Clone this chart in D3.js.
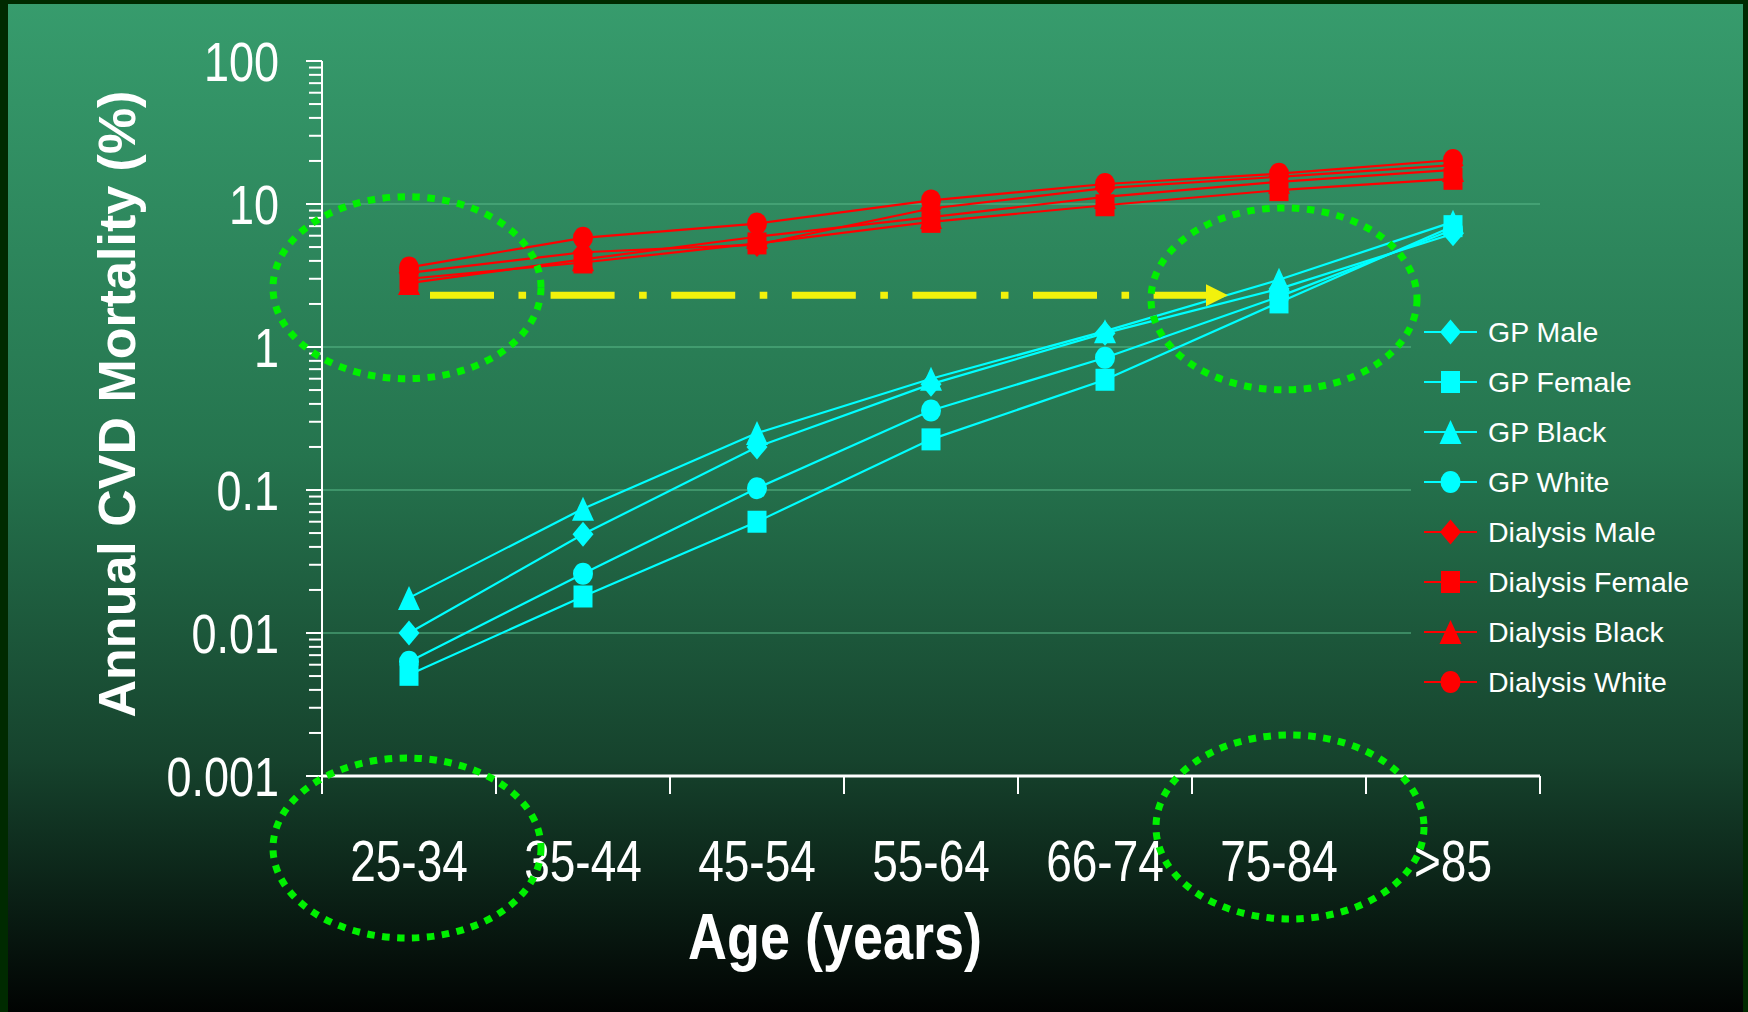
<!DOCTYPE html>
<html>
<head>
<meta charset="utf-8">
<script src="https://cdn.jsdelivr.net/npm/d3@7"></script>
<style>
  html, body { margin: 0; padding: 0; background: #002a00; }
  svg { display: block; font-family: "Liberation Sans", Arial, sans-serif; }
</style>
</head>
<body>
<svg id="chart" width="1748" height="1012"></svg>
<script>
// --- data ---
const ages = ["25-34", "35-44", "45-54", "55-64", "66-74", "75-84", ">85"];

const gpMale     = [0.010, 0.049, 0.20, 0.55, 1.25, 2.55, 6.2];
const gpFemale   = [0.0051, 0.018, 0.060, 0.226, 0.59, 2.05, 7.0];
const gpBlack    = [0.0176, 0.074, 0.25, 0.60, 1.29, 2.95, 7.5];
const gpWhite    = [0.0063, 0.026, 0.103, 0.36, 0.84, 2.25, 6.6];
const dialMale   = [3.3, 4.6, 5.2, 9.3, 12.9, 15.5, 18.7];
const dialFemale = [3.0, 3.9, 5.3, 7.5, 9.8, 12.5, 15.0];
const dialBlack  = [2.8, 4.1, 5.9, 8.1, 11.2, 14.3, 17.3];
const dialWhite  = [3.6, 5.8, 7.3, 10.6, 13.8, 16.3, 20.3];

const yMajor = [0.001, 0.01, 0.1, 1, 10, 100];
const yMajorLabels = ["0.001", "0.01", "0.1", "1", "10", "100"];
const gridValues = [10, 1, 0.1, 0.01];

// annotation: the yellow arrow level
const arrowLevel = 2.3;

const cyan = "#00ffff", red = "#ff0000";

const series = [
  {name: "GP Male",         values: gpMale,     color: cyan, shape: "diamond"},
  {name: "GP Female",       values: gpFemale,   color: cyan, shape: "square"},
  {name: "GP Black",        values: gpBlack,    color: cyan, shape: "triangle"},
  {name: "GP White",        values: gpWhite,    color: cyan, shape: "circle"},
  {name: "Dialysis Male",   values: dialMale,   color: red,  shape: "diamond"},
  {name: "Dialysis Female", values: dialFemale, color: red,  shape: "square"},
  {name: "Dialysis Black",  values: dialBlack,  color: red,  shape: "triangle"},
  {name: "Dialysis White",  values: dialWhite,  color: red,  shape: "circle"}
];

// --- layout ---
const W = 1748, H = 1012;
const plot = {left: 322, right: 1540, top: 61, bottom: 776};
const stretch = 1.23;   // slide text is a bit tall and narrow

const svg = d3.select("#chart");

const x = d3.scaleBand().domain(ages).range([plot.left, plot.right]);
const xEdge = d3.scaleLinear().domain([0, ages.length]).range([plot.left, plot.right]);
const y = d3.scaleLog().domain([0.001, 100]).range([plot.bottom, plot.top]);
const cx = function(a) { return x(a) + x.bandwidth() / 2; };

// background
let defs = svg.append("defs");
let grad = defs.append("linearGradient")
  .attr("id", "bg")
  .attr("gradientUnits", "userSpaceOnUse")
  .attr("x1", 0).attr("y1", 0).attr("x2", 0).attr("y2", H);
grad.append("stop").attr("offset", 0).attr("stop-color", "#379c6d");
grad.append("stop").attr("offset", 0.45).attr("stop-color", "#25744e");
grad.append("stop").attr("offset", 0.75).attr("stop-color", "#16432d");
grad.append("stop").attr("offset", 1).attr("stop-color", "#010302");

svg.append("rect").attr("width", W).attr("height", H).attr("fill", "#002a00");
svg.append("rect").attr("x", 8).attr("y", 4).attr("width", W - 13).attr("height", H - 4)
  .attr("fill", "url(#bg)");

// gridlines
svg.append("g").selectAll("line").data(gridValues).enter().append("line")
  .attr("x1", plot.left).attr("x2", plot.right)
  .attr("y1", function(d) { return y(d); }).attr("y2", function(d) { return y(d); })
  .attr("stroke", "#55b485").attr("stroke-opacity", 0.55).attr("stroke-width", 2);

// legend box hides the gridlines behind it
const legend = {x: 1411, top: 300, bottom: 712, lineX1: 1424, lineX2: 1477, textX: 1488, rowY: 332, step: 50};
svg.append("rect")
  .attr("x", legend.x).attr("y", legend.top)
  .attr("width", 1742 - legend.x).attr("height", legend.bottom - legend.top)
  .attr("fill", "url(#bg)");

// y axis
let minorTicks = [];
for (let e = -3; e < 2; e++) {
  for (let m = 2; m <= 9; m++) minorTicks.push(m * Math.pow(10, e));
}
let yAxis = svg.append("g").attr("class", "y-axis");
yAxis.append("line")
  .attr("x1", plot.left).attr("x2", plot.left)
  .attr("y1", y(100)).attr("y2", y(0.001))
  .attr("stroke", "#fff").attr("stroke-width", 2);
yAxis.selectAll("line.major").data(yMajor).enter().append("line")
  .attr("class", "major")
  .attr("x1", plot.left - 16).attr("x2", plot.left)
  .attr("y1", function(d) { return y(d); }).attr("y2", function(d) { return y(d); })
  .attr("stroke", "#fff").attr("stroke-width", 2);
yAxis.selectAll("line.minor").data(minorTicks).enter().append("line")
  .attr("class", "minor")
  .attr("x1", plot.left - 13).attr("x2", plot.left)
  .attr("y1", function(d) { return y(d); }).attr("y2", function(d) { return y(d); })
  .attr("stroke", "#fff").attr("stroke-width", 2);

function tallText(parent, px, py, str, size, anchor, weight, sy) {
  return parent.append("text")
    .attr("transform", "translate(" + px + "," + py + ") scale(1," + sy + ")")
    .attr("text-anchor", anchor)
    .attr("font-size", size)
    .attr("font-weight", weight)
    .attr("fill", "#fff")
    .text(str);
}

yMajor.forEach(function(v, i) {
  tallText(yAxis, 279, y(v), yMajorLabels[i], 45, "end", "normal", stretch).attr("dy", "0.36em");
});

// x axis
let xAxis = svg.append("g").attr("class", "x-axis");
xAxis.append("line")
  .attr("x1", plot.left).attr("x2", plot.right)
  .attr("y1", plot.bottom).attr("y2", plot.bottom)
  .attr("stroke", "#fff").attr("stroke-width", 3);
xAxis.selectAll("line.tick").data(d3.range(ages.length + 1)).enter().append("line")
  .attr("class", "tick")
  .attr("x1", function(d) { return xEdge(d); }).attr("x2", function(d) { return xEdge(d); })
  .attr("y1", plot.bottom).attr("y2", plot.bottom + 18)
  .attr("stroke", "#fff").attr("stroke-width", 2);
ages.forEach(function(a) {
  tallText(xAxis, cx(a), 881, a, 46, "middle", "normal", stretch);
});

// axis titles
tallText(svg, 835, 959, "Age (years)", 54, "middle", "bold", 1.2);
svg.append("text")
  .attr("transform", "translate(116," + 404 + ") rotate(-90)")
  .attr("text-anchor", "middle")
  .attr("dy", "0.36em")
  .attr("font-size", 52)
  .attr("font-weight", "bold")
  .attr("fill", "#fff")
  .text("Annual CVD Mortality (%)");

// markers
function markerPath(shape) {
  if (shape === "diamond") return "M0,-12.5L10.5,0L0,12.5L-10.5,0Z";
  if (shape === "square") return "M-9.5,-11h19v22h-19Z";
  if (shape === "triangle") return "M0,-12L11,12L-11,12Z";
  return "M-10,0a10,11 0 1,0 20,0a10,11 0 1,0 -20,0Z";
}

let line = d3.line()
  .x(function(d, i) { return cx(ages[i]); })
  .y(function(d) { return y(d); });

let seriesG = svg.append("g").selectAll("g").data(series).enter().append("g");
seriesG.append("path")
  .attr("d", function(s) { return line(s.values); })
  .attr("fill", "none")
  .attr("stroke", function(s) { return s.color; })
  .attr("stroke-width", 2.2);
seriesG.each(function(s) {
  d3.select(this).selectAll("path.mark").data(s.values).enter().append("path")
    .attr("class", "mark")
    .attr("transform", function(d, i) { return "translate(" + cx(ages[i]) + "," + y(d) + ")"; })
    .attr("d", markerPath(s.shape))
    .attr("fill", s.color);
});

// legend
let leg = svg.append("g").selectAll("g").data(series).enter().append("g")
  .attr("transform", function(d, i) { return "translate(0," + (legend.rowY + i * legend.step) + ")"; });
leg.append("line")
  .attr("x1", legend.lineX1).attr("x2", legend.lineX2)
  .attr("stroke", function(d) { return d.color; }).attr("stroke-width", 2.2);
leg.append("path")
  .attr("transform", "translate(" + (legend.lineX1 + legend.lineX2) / 2 + ",0)")
  .attr("d", function(d) { return markerPath(d.shape); })
  .attr("fill", function(d) { return d.color; });
leg.append("text")
  .attr("x", legend.textX).attr("dy", "0.36em")
  .attr("font-size", 28.5)
  .attr("fill", "#fff")
  .text(function(d) { return d.name; });

// annotations: yellow dash-dot arrow
let ay = y(arrowLevel);
let ax1 = cx(ages[0]) + 21, ax2 = cx(ages[5]) - 51;
svg.append("line")
  .attr("x1", ax1).attr("x2", ax2 - 18)
  .attr("y1", ay).attr("y2", ay)
  .attr("stroke", "#f2f20c").attr("stroke-width", 7)
  .attr("stroke-dasharray", "64 24.5 7.6 24.5");
svg.append("path")
  .attr("d", "M" + (ax2 - 22) + "," + (ay - 11) + "L" + ax2 + "," + ay + "L" + (ax2 - 22) + "," + (ay + 11) + "Z")
  .attr("fill", "#f2f20c");

// annotations: green dotted ellipses
const ellipses = [
  {age: ages[0], dx: -2, cy: y(2.6), rx: 134, ry: 91},
  {age: ages[5], dx: 5,  cy: y(2.17), rx: 133, ry: 91},
  {age: ages[0], dx: -2, cy: plot.bottom + 72, rx: 134, ry: 90},
  {age: ages[5], dx: 11, cy: plot.bottom + 51, rx: 134, ry: 92}
];
svg.append("g").selectAll("ellipse").data(ellipses).enter().append("ellipse")
  .attr("cx", function(d) { return cx(d.age) + d.dx; })
  .attr("cy", function(d) { return d.cy; })
  .attr("rx", function(d) { return d.rx; })
  .attr("ry", function(d) { return d.ry; })
  .attr("fill", "none")
  .attr("stroke", "#00f000")
  .attr("stroke-width", 7)
  .attr("stroke-dasharray", "7.5 7.5");
</script>
</body>
</html>
